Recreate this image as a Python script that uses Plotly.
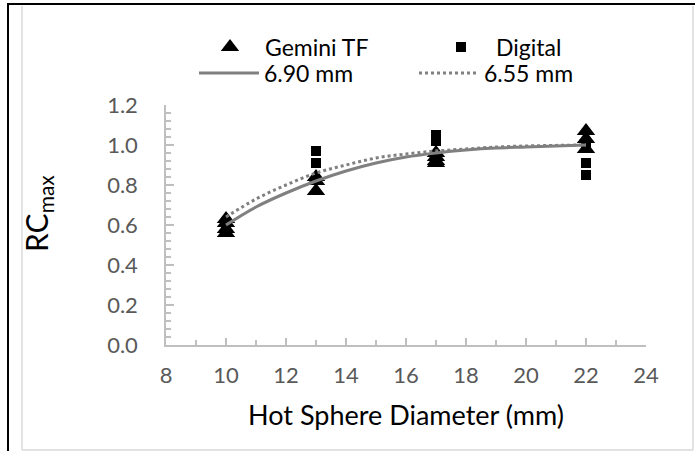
import plotly.graph_objects as go

# ---- data ----
gem_x = [10, 10, 10, 10, 13, 13, 13, 17, 17, 17, 17, 22, 22, 22]
gem_y = [0.63, 0.61, 0.58, 0.56, 0.84, 0.82, 0.77, 0.96, 0.94, 0.92, 0.91, 1.07, 1.03, 0.98]

dig_x = [10, 10, 13, 13, 17, 17, 22, 22, 22]
dig_y = [0.60, 0.58, 0.97, 0.91, 1.05, 1.02, 1.00, 0.91, 0.85]

fit_x = [10, 11, 12, 13, 14, 15, 16, 17, 18, 19, 20, 21, 22]
fit_690 = [0.60, 0.69, 0.76, 0.82, 0.87, 0.91, 0.94, 0.96, 0.975, 0.985, 0.99, 0.995, 1.0]
fit_655 = [0.64, 0.73, 0.80, 0.86, 0.90, 0.935, 0.955, 0.97, 0.98, 0.99, 0.995, 0.998, 1.0]

x_ticks = [8, 10, 12, 14, 16, 18, 20, 22, 24]
y_ticks = [0.0, 0.2, 0.4, 0.6, 0.8, 1.0, 1.2]

FONT = "Lato"
W, H = 695, 451
ML, MR, MT, MB = 166, 49, 105, 106
PW, PH = W - ML - MR, H - MT - MB


def px(x):
    return (x - ML) / PW


def py(y):
    return (H - MB - y) / PH


fig = go.Figure()
fig.add_trace(go.Scatter(x=gem_x, y=gem_y, mode="markers", name="Gemini TF", legend="legend",
                         marker=dict(symbol="triangle-up", size=16, color="black")))
fig.add_trace(go.Scatter(x=dig_x, y=dig_y, mode="markers", name="Digital", legend="legend",
                         marker=dict(symbol="square", size=10, color="black")))
fig.add_trace(go.Scatter(x=fit_x, y=fit_690, mode="lines", name="6.90 mm", legend="legend2",
                         line=dict(color="#808080", width=3, shape="spline")))
fig.add_trace(go.Scatter(x=fit_x, y=fit_655, mode="lines", name="6.55 mm", legend="legend2",
                         line=dict(color="#808080", width=3, dash="dot", shape="spline")))

grey = "#D9D9D9"
shapes = [
    dict(type="line", xref="paper", yref="paper", x0=px(8), x1=px(8), y0=py(3), y1=py(451),
         line=dict(color="black", width=2)),
    dict(type="line", xref="paper", yref="paper", x0=px(7), x1=px(695), y0=py(4), y1=py(4),
         line=dict(color="black", width=2)),
    dict(type="line", xref="paper", yref="paper", x0=px(22), x1=px(22), y0=py(6), y1=py(450),
         line=dict(color=grey, width=1.5)),
    dict(type="line", xref="paper", yref="paper", x0=px(22), x1=px(693), y0=py(450), y1=py(450),
         line=dict(color=grey, width=1.5)),
    dict(type="line", xref="paper", yref="paper", x0=px(693), x1=px(693), y0=py(6), y1=py(450),
         line=dict(color=grey, width=1.5)),
]

leg_common = dict(orientation="h", xanchor="left", yanchor="middle",
                  entrywidthmode="pixels", itemwidth=60,
                  font=dict(family=FONT, size=23, color="black"),
                  bgcolor="rgba(0,0,0,0)", tracegroupgap=0)

fig.update_layout(
    width=W, height=H,
    margin=dict(l=ML, r=MR, t=MT, b=MB),
    paper_bgcolor="white", plot_bgcolor="white",
    font=dict(family=FONT, size=22, color="black"),
    showlegend=True,
    legend=dict(x=px(195), y=py(47), entrywidth=156, **leg_common),
    legend2=dict(x=px(194), y=py(73), entrywidth=145, **leg_common),
    shapes=shapes,
    annotations=[dict(text="RC<sub>max</sub>", xref="paper", yref="paper",
                      x=px(38), y=py(214), xanchor="center", yanchor="middle",
                      textangle=-90, showarrow=False,
                      font=dict(family=FONT, size=30, color="black"))],
)
fig.update_xaxes(
    range=[8, 24], tickvals=x_ticks, ticktext=[str(v) for v in x_ticks],
    showgrid=False, zeroline=False, showline=True, linecolor="#BFBFBF", linewidth=1.5,
    ticks="inside", ticklen=7, tickcolor="#BFBFBF", tickwidth=1.5,
    minor=dict(dtick=1, ticks="inside", ticklen=5, tickcolor="#BFBFBF", tickwidth=1.5),
    tickfont=dict(family=FONT, size=22, color="#595959"),
    ticklabelstandoff=10,
    title=dict(text="Hot Sphere Diameter (mm)", font=dict(family=FONT, size=27, color="black"),
               standoff=19),
)
fig.update_yaxes(
    range=[0, 1.2], tickvals=y_ticks, ticktext=[f"{v:.1f}" for v in y_ticks],
    showgrid=False, zeroline=False, showline=True, linecolor="#BFBFBF", linewidth=1.5,
    ticks="inside", ticklen=8, tickcolor="#BFBFBF", tickwidth=1.5,
    minor=dict(dtick=0.04, ticks="inside", ticklen=5, tickcolor="#BFBFBF", tickwidth=1.5),
    tickfont=dict(family=FONT, size=22, color="#595959"),
    ticklabelstandoff=22,
)

fig.write_html("out.html", config={"displayModeBar": False},
               post_script="document.body.style.margin='0';document.body.style.overflow='hidden';")
